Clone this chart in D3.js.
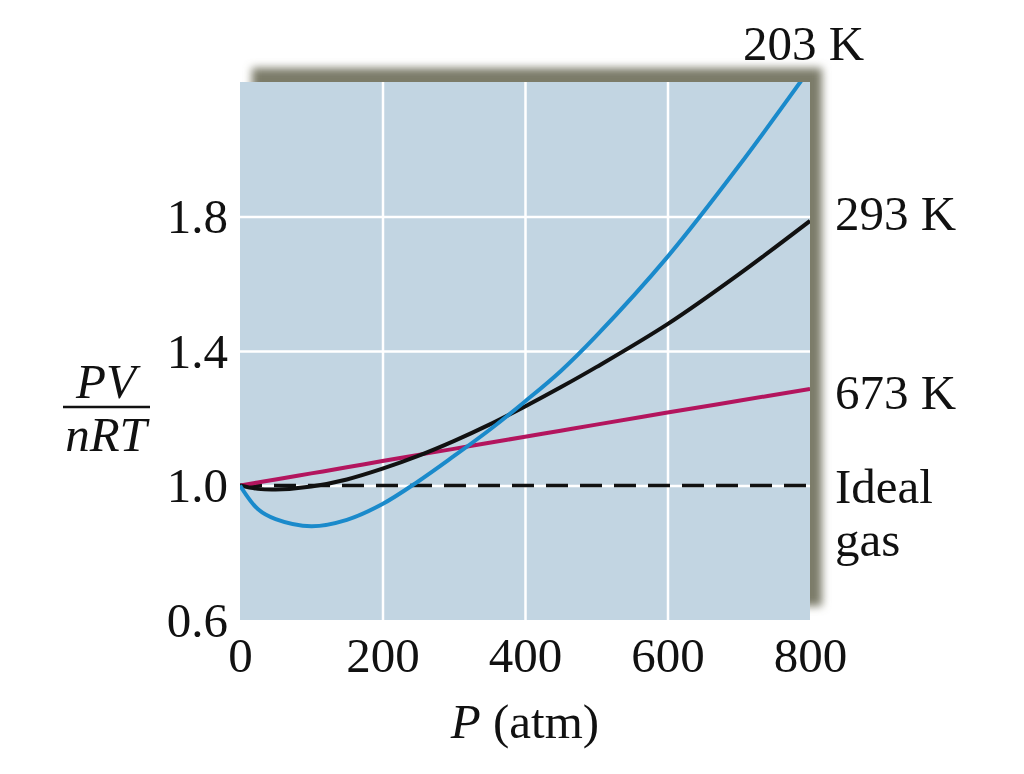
<!DOCTYPE html>
<html>
<head>
<meta charset="utf-8">
<script src="https://cdn.jsdelivr.net/npm/d3@7"></script>
<style>
  body { margin: 0; background: #fff; }
  svg text { font-family: "Liberation Serif", "Times New Roman", serif; fill: #111; }
</style>
</head>
<body>
<svg id="chart" width="1024" height="774"></svg>
<script>
// values
var pressure = [0, 25, 50, 100, 150, 200, 250, 300, 350, 400, 450, 500, 600, 700, 800];
var z203 = [1.0, 0.93, 0.9, 0.879, 0.898, 0.945, 1.012, 1.087, 1.165, 1.25, 1.34, 1.445, 1.68, 1.95, 2.24];
var z293 = [1.0, 0.99, 0.988, 0.997, 1.018, 1.05, 1.088, 1.132, 1.181, 1.235, 1.292, 1.352, 1.48, 1.628, 1.787];
var z673 = [1.0, 1.009, 1.018, 1.036, 1.054, 1.073, 1.091, 1.109, 1.127, 1.145, 1.163, 1.181, 1.217, 1.252, 1.287];
var zIdeal = [1.0, 1.0];
var idealP = [0, 800];
var xTicks = [0, 200, 400, 600, 800];
var yTicks = [0.6, 1.0, 1.4, 1.8];

var svg = d3.select("#chart");
var pLeft = 240, pRight = 810, pTop = 82, pBottom = 620;

var x = d3.scaleLinear().domain([0, 800]).range([pLeft, pRight]);
var y = d3.scaleLinear().domain([0.6, 2.2]).range([pBottom, pTop]);

// drop shadow behind the plot box (offset up and right)
var defs = svg.append("defs");
var f = defs.append("filter").attr("id", "shadow")
    .attr("x", "-10%").attr("y", "-10%").attr("width", "120%").attr("height", "120%");
f.append("feGaussianBlur").attr("stdDeviation", 4);

defs.append("clipPath").attr("id", "plotclip")
  .append("rect")
    .attr("x", pLeft).attr("y", pTop)
    .attr("width", pRight - pLeft).attr("height", pBottom - pTop);

svg.append("rect")
    .attr("x", pLeft + 12).attr("y", pTop - 14)
    .attr("width", pRight - pLeft).attr("height", pBottom - pTop)
    .attr("fill", "#7c7b69")
    .attr("filter", "url(#shadow)");

svg.append("rect")
    .attr("x", pLeft).attr("y", pTop)
    .attr("width", pRight - pLeft).attr("height", pBottom - pTop)
    .attr("fill", "#c2d5e2");

// white grid
svg.append("g")
    .attr("transform", "translate(0," + pBottom + ")")
    .call(d3.axisBottom(x).tickValues([200, 400, 600]).tickSize(-(pBottom - pTop)).tickFormat(""))
    .call(function(g) { g.select(".domain").remove(); })
    .selectAll("line").attr("stroke", "#fff").attr("stroke-width", 2.5);

svg.append("g")
    .attr("transform", "translate(" + pLeft + ",0)")
    .call(d3.axisLeft(y).tickValues([1.0, 1.4, 1.8]).tickSize(-(pRight - pLeft)).tickFormat(""))
    .call(function(g) { g.select(".domain").remove(); })
    .selectAll("line").attr("stroke", "#fff").attr("stroke-width", 2.5);

// tick labels
var xAxis = svg.append("g")
    .attr("transform", "translate(0," + pBottom + ")")
    .call(d3.axisBottom(x).tickValues(xTicks).tickSize(0).tickPadding(0).tickFormat(d3.format("d")));
xAxis.select(".domain").remove();
xAxis.selectAll("text")
    .attr("y", 52).attr("dy", 0)
    .style("font-size", "49px")
    .style("font-family", "Liberation Serif, serif")
    .attr("fill", "#111");

var yAxis = svg.append("g")
    .attr("transform", "translate(" + pLeft + ",0)")
    .call(d3.axisLeft(y).tickValues(yTicks).tickSize(0).tickPadding(12).tickFormat(d3.format(".1f")));
yAxis.select(".domain").remove();
yAxis.selectAll("text")
    .attr("dy", 16)
    .style("font-size", "49px")
    .style("font-family", "Liberation Serif, serif")
    .attr("fill", "#111");

// curves
var line = d3.line()
    .x(function(d) { return x(d[0]); })
    .y(function(d) { return y(d[1]); })
    .curve(d3.curveCatmullRom);

var plot = svg.append("g").attr("clip-path", "url(#plotclip)");

plot.append("path")
    .datum(d3.zip(idealP, zIdeal))
    .attr("d", line)
    .attr("fill", "none")
    .attr("stroke", "#111")
    .attr("stroke-width", 3.5)
    .attr("stroke-dasharray", "22,12");

var series = [
  { vals: z673, color: "#b3155e" },
  { vals: z293, color: "#111" },
  { vals: z203, color: "#1a8acb" }
];
series.forEach(function(s) {
  plot.append("path")
      .datum(d3.zip(pressure, s.vals))
      .attr("d", line)
      .attr("fill", "none")
      .attr("stroke", s.color)
      .attr("stroke-width", 4);
});

// curve labels
var labels = [
  { t: "203 K", x: 743, y: 60 },
  { t: "293 K", x: 835, y: 230 },
  { t: "673 K", x: 835, y: 409 },
  { t: "Ideal", x: 835, y: 503 },
  { t: "gas", x: 835, y: 556 }
];
svg.selectAll(".clabel")
  .data(labels)
  .enter().append("text")
    .attr("class", "clabel")
    .attr("x", function(d) { return d.x; })
    .attr("y", function(d) { return d.y; })
    .style("font-size", "49px")
    .text(function(d) { return d.t; });

// x axis title
var xt = svg.append("text")
    .attr("x", 525).attr("y", 738)
    .attr("text-anchor", "middle")
    .style("font-size", "49px");
xt.append("tspan").style("font-style", "italic").text("P");
xt.append("tspan").text(" (atm)");

// y axis title as a fraction
svg.append("text")
    .attr("x", 106).attr("y", 398)
    .attr("text-anchor", "middle")
    .style("font-size", "49px")
    .style("font-style", "italic")
    .text("PV");
svg.append("line")
    .attr("x1", 63).attr("x2", 150)
    .attr("y1", 407).attr("y2", 407)
    .attr("stroke", "#111").attr("stroke-width", 2.5);
svg.append("text")
    .attr("x", 106).attr("y", 451)
    .attr("text-anchor", "middle")
    .style("font-size", "49px")
    .style("font-style", "italic")
    .text("nRT");
</script>
</body>
</html>
